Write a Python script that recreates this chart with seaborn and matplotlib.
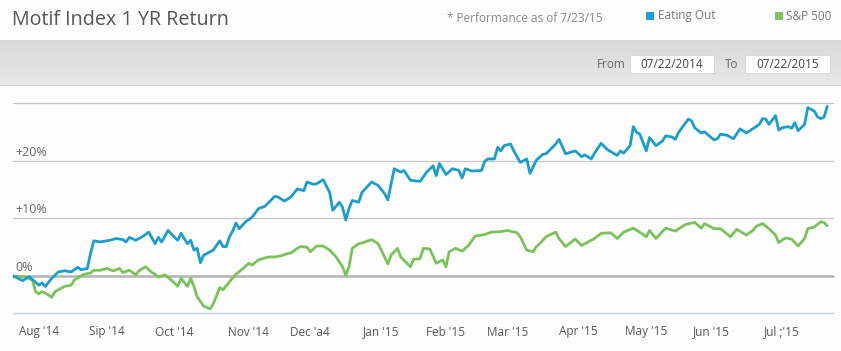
import matplotlib
matplotlib.use('Agg')
import matplotlib.pyplot as plt
import matplotlib.patches as mpatches
from matplotlib.colors import LinearSegmentedColormap
import numpy as np
import pandas as pd
import seaborn as sns

sns.set_style('white')
plt.rcParams['font.family'] = ['Open Sans', 'DejaVu Sans']

W, H = 841, 351

# trading-session index (0 = 07/22/2014) and return in %
eat_idx = [0, 3, 5, 8, 9, 10, 12, 14, 16, 18, 20, 21, 23, 24, 25, 27, 30, 32, 34, 35,
           36, 38, 40, 42, 44, 45, 46, 48, 50, 51, 52, 54, 55, 56, 57, 58, 59, 61, 62, 64,
           65, 66, 67, 68, 69, 70, 72, 74, 76, 78, 81, 82, 84, 86, 88, 90, 91, 93, 94, 96,
           98, 99, 101, 102, 103, 104, 105, 107, 108, 111, 113, 115, 116, 118, 120, 121, 123, 126, 128, 130,
           131, 132, 134, 136, 138, 139, 140, 142, 145, 146, 147, 149, 150, 151, 152, 154, 155, 157, 159, 160,
           162, 164, 165, 168, 169, 171, 174, 176, 177, 179, 180, 182, 184, 187, 188, 189, 191, 192, 193, 194,
           196, 197, 199, 201, 202, 204, 205, 206, 209, 210, 211, 213, 214, 217, 218, 219, 221, 223, 225, 227,
           230, 231, 232, 233, 234, 236, 237, 238, 240, 241, 242, 243, 245, 246, 248, 249, 250, 251, 252]
eat_ret = [0.0, -0.8, -0.1, -1.6, -1.2, -1.8, -0.4, 0.7, 0.9, 0.7, 1.5, 1.1, 1.3, 3.9, 6.1, 5.9, 6.2, 6.5, 6.3, 5.9,
           6.7, 6.2, 6.8, 7.6, 5.6, 6.7, 5.9, 7.9, 6.7, 6.2, 7.4, 5.6, 6.2, 4.5, 4.8, 2.3, 3.6, 4.2, 4.5, 6.1,
           5.1, 5.1, 6.8, 7.8, 9.2, 8.2, 9.4, 10.2, 11.7, 12.1, 13.8, 13.7, 13.0, 13.7, 15.1, 14.8, 16.3, 15.9, 16.0, 16.7,
           14.5, 11.4, 12.8, 11.9, 9.7, 11.7, 13.1, 12.8, 14.5, 16.3, 15.7, 14.3, 13.2, 18.6, 18.0, 18.3, 16.6, 16.4, 18.0, 19.1,
           17.4, 19.5, 17.6, 18.6, 18.3, 17.0, 18.6, 18.2, 18.3, 19.9, 20.3, 20.3, 22.3, 21.7, 22.6, 22.9, 21.7, 19.7, 20.3, 17.8,
           20.1, 21.1, 21.2, 22.9, 23.7, 21.2, 21.7, 20.7, 21.0, 20.3, 21.3, 23.0, 21.9, 20.9, 21.7, 21.3, 22.6, 25.9, 24.9, 24.6,
           21.7, 24.0, 22.6, 23.4, 24.3, 24.1, 23.7, 24.9, 27.2, 26.9, 25.7, 24.8, 25.0, 23.6, 23.8, 24.6, 24.4, 23.8, 25.5, 24.8,
           25.9, 26.3, 27.3, 27.2, 26.3, 27.8, 25.3, 25.7, 25.9, 25.6, 26.6, 25.2, 26.3, 29.2, 28.6, 27.6, 27.3, 27.5, 29.4]

spx_idx = [0, 4, 6, 7, 8, 9, 11, 12, 13, 14, 16, 18, 19, 21, 22, 24, 25, 27, 29, 31,
           33, 34, 36, 38, 39, 41, 43, 44, 45, 47, 49, 51, 52, 54, 55, 56, 57, 59, 61, 62,
           64, 65, 67, 69, 71, 73, 74, 76, 79, 81, 83, 85, 86, 88, 89, 91, 92, 94, 96, 98,
           100, 102, 103, 104, 105, 107, 109, 111, 113, 114, 116, 117, 119, 120, 123, 124, 126, 127, 129, 131,
           133, 134, 135, 137, 139, 141, 143, 146, 148, 151, 153, 156, 157, 159, 161, 162, 163, 165, 166, 168,
           169, 171, 174, 176, 178, 180, 182, 185, 187, 189, 192, 194, 196, 197, 199, 202, 205, 208, 211, 213,
           214, 217, 219, 222, 224, 227, 229, 230, 232, 234, 236, 237, 239, 241, 243, 245, 246, 248, 250, 251, 252]
spx_ret = [0.0, -0.2, -0.7, -2.7, -3.1, -2.7, -3.3, -3.7, -2.7, -2.4, -1.8, -1.6, -0.7, 0.0, 0.3, 0.5, 1.0, 1.0, 1.3, 0.9,
           1.3, 0.6, 1.0, 0.2, 0.9, 1.6, 0.6, 0.3, -0.2, 0.2, -0.7, -1.8, -0.4, -1.8, -0.4, -1.8, -3.6, -5.2, -5.7, -4.8,
           -2.0, -2.4, -1.0, 0.3, 1.2, 2.2, 1.9, 2.8, 3.3, 3.3, 3.5, 3.9, 4.0, 4.8, 5.1, 5.0, 4.2, 5.2, 5.2, 4.5,
           3.3, 1.6, 0.1, 1.6, 4.8, 5.6, 5.9, 6.3, 5.6, 4.5, 2.1, 3.6, 4.8, 3.3, 1.6, 2.9, 3.0, 4.8, 4.7, 2.2,
           2.8, 1.6, 4.2, 4.8, 4.3, 5.3, 6.9, 7.2, 7.6, 7.7, 7.9, 7.5, 6.8, 4.5, 4.2, 5.1, 5.6, 6.8, 7.1, 7.6,
           6.5, 5.1, 6.4, 5.3, 5.9, 6.5, 7.4, 7.5, 6.5, 7.6, 8.3, 7.6, 6.8, 7.9, 6.5, 8.3, 7.8, 8.9, 9.3, 8.3,
           9.1, 8.2, 8.2, 6.8, 8.1, 7.1, 7.9, 8.6, 9.1, 8.2, 7.1, 5.8, 6.6, 6.4, 5.2, 6.5, 8.2, 8.5, 9.4, 9.3, 8.7]

month_pos = [8, 29, 50, 73, 92, 114, 134, 153, 175, 196, 216, 238]
month_labels = ["Aug '14", "Sip '14", "Oct '14", "Nov '14", "Dec 'a4", "Jan '15",
                "Feb '15", "Mar '15", "Apr '15", "May '15", "Jun '15", "Jul ;'15"]
grid_levels = [0, 10, 20, 30]
grid_labels = ['0%', '+10%', '+20%', '']

series_names = ['S&P 500', 'Eating Out']
series_colors = {'Eating Out': '#1c9dcc', 'S&P 500': '#7bc25b'}


def fx(x):
    return x / W


def fy(y):
    return 1 - y / H


df = pd.concat([
    pd.DataFrame({'session': spx_idx, 'ret': spx_ret, 'series': 'S&P 500'}),
    pd.DataFrame({'session': eat_idx, 'ret': eat_ret, 'series': 'Eating Out'}),
])

fig = plt.figure(figsize=(W / 100, H / 100), dpi=100)
fig.patch.set_facecolor('#fdfdfd')

# grey toolbar band with gradient
hdr = fig.add_axes([0, fy(86), 1, 46 / H])
grad = np.linspace(0, 1, 50).reshape(-1, 1)
cmap = LinearSegmentedColormap.from_list('band', ['#d8d8d8', '#e9e9e9'])
hdr.imshow(grad, aspect='auto', cmap=cmap, extent=[0, 1, 0, 1])
hdr.axhline(0, color='#c9c9c9', lw=1.2)
hdr.set_axis_off()

# main chart
ax = fig.add_axes([fx(13), fy(313), (833 - 13) / W, (313 - 103) / H])
ax.set_facecolor('#fdfdfd')
ax.set_xlim(0, 253.8)
ax.set_ylim(-(313 - 276) / 5.767, 30)

for lvl in grid_levels:
    if lvl == 0:
        ax.axhline(lvl, color='#b4b4b4', lw=1.8, zorder=1, clip_on=False)
    else:
        ax.axhline(lvl, color='#c6c6c6', lw=0.9, zorder=1, clip_on=False)

for lvl, lab in zip(grid_levels, grid_labels):
    if lab:
        ax.text(0.8, lvl + 0.35, lab, fontsize=9, color='#666666', ha='left', va='bottom', zorder=0)

sns.lineplot(data=df, x='session', y='ret', hue='series', hue_order=series_names,
             palette=series_colors, linewidth=2.0, estimator=None, legend=False, ax=ax, zorder=3)

for s in ['top', 'left', 'right']:
    ax.spines[s].set_visible(False)
ax.spines['bottom'].set_color('#c9d2dd')
ax.spines['bottom'].set_linewidth(1.0)
ax.set_yticks([])
ax.set_xticks(month_pos)
ax.set_xticklabels(month_labels, fontsize=8.5, color='#555555')
ax.tick_params(axis='x', length=6, width=0.8, color='#c9d2dd', pad=3)
ax.set_xlabel('')
ax.set_ylabel('')

# header texts
fig.text(fx(12), fy(20), 'Motif Index 1 YR Return', fontsize=14.2, color='#555555', ha='left', va='center')
fig.text(fx(447), fy(18), '* Performance as of 7/23/15', fontsize=8.5, color='#888888', ha='left', va='center')

fig.add_artist(mpatches.Rectangle((fx(646), fy(20)), 8 / W, 8 / H, transform=fig.transFigure,
                                  facecolor='#1ba1d6', edgecolor='none'))
fig.text(fx(658), fy(16), 'Eating Out', fontsize=8.5, color='#777777', ha='left', va='center')
fig.add_artist(mpatches.Rectangle((fx(775), fy(20)), 8 / W, 8 / H, transform=fig.transFigure,
                                  facecolor='#7dc561', edgecolor='none'))
fig.text(fx(786), fy(16), 'S&P 500', fontsize=8.5, color='#777777', ha='left', va='center')

# date range inputs
fig.text(fx(597), fy(64), 'From', fontsize=8.5, color='#666666', ha='left', va='center', zorder=6)
fig.add_artist(mpatches.Rectangle((fx(630), fy(73)), 84 / W, 18 / H, transform=fig.transFigure,
                                  facecolor='white', edgecolor='#d4d4d4', lw=0.6, zorder=5))
fig.text(fx(672), fy(64), '07/22/2014', fontsize=8.5, color='#444444', ha='center', va='center', zorder=6)
fig.text(fx(725), fy(64), 'To', fontsize=8.5, color='#666666', ha='left', va='center', zorder=6)
fig.add_artist(mpatches.Rectangle((fx(745), fy(73)), 85 / W, 18 / H, transform=fig.transFigure,
                                  facecolor='white', edgecolor='#d4d4d4', lw=0.6, zorder=5))
fig.text(fx(787.5), fy(64), '07/22/2015', fontsize=8.5, color='#444444', ha='center', va='center', zorder=6)

fig.savefig('out.png', dpi=100, facecolor=fig.get_facecolor())
